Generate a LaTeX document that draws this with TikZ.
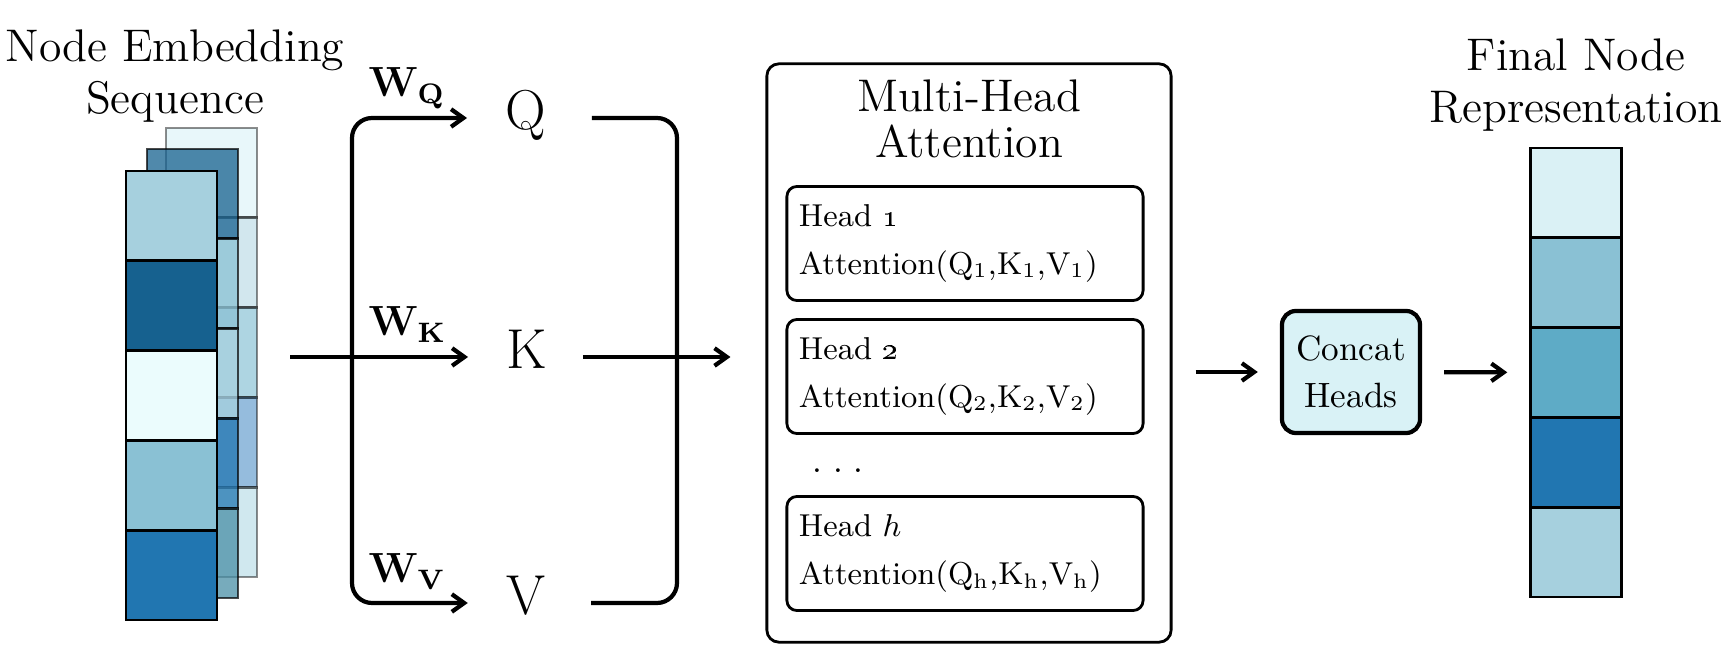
\documentclass[tikz,border=0pt]{standalone}
\usetikzlibrary{positioning,arrows.meta}
\definecolor{seqA}{HTML}{A6D0DE}
\definecolor{seqB}{HTML}{16618F}
\definecolor{seqC}{HTML}{EBFCFD}
\definecolor{seqD}{HTML}{8AC1D4}
\definecolor{seqE}{HTML}{2176B1}
\definecolor{midE}{HTML}{4A8FA6}
\definecolor{backA}{HTML}{D1EFF5}
\definecolor{backD}{HTML}{2B79BB}
\definecolor{backE}{HTML}{A1D1DF}
\definecolor{outA}{HTML}{DAF1F5}
\definecolor{outC}{HTML}{5EABC6}
\definecolor{concatC}{HTML}{D9F2F6}
\tikzset{
  flow/.style={very thick,-{Straight Barb[length=3.5pt,width=5pt]}},
  wire/.style={very thick},
  cell/.style={draw,thick,minimum width=0.905cm,minimum height=0.898cm,inner sep=0},
  headbox/.style={draw,thick,rounded corners=0.1cm,minimum width=3.56cm,minimum height=1.14cm,
    text width=3.32cm,align=left,font=\small,inner sep=0},
  title/.style={font={\fontsize{13}{14.8}\selectfont},align=center,inner sep=0},
  qkv/.style={font={\fontsize{16}{19}\selectfont},inner sep=0,text height=0.68em,text depth=0pt},
  wlabel/.style={anchor=base west,inner sep=0,font=\large},
}

\begin{document}
\begin{tikzpicture}[x=0.01cm,y=-0.01cm]
  \useasboundingbox (0,0) rectangle (1726,670);

  % input sequence, three stacked layers
  \node[title] (seqtitle) at (175,76) {Node Embedding\\Sequence};
  \foreach \c [count=\i] in {backA,seqA,outC,backD,backE}
    \filldraw[thick,fill=\c,fill opacity=0.5,draw opacity=0.45] (166,{128+(\i-1)*89.8}) rectangle ++(91,89.8);
  \foreach \c [count=\i] in {seqB,seqD,seqA,seqE,midE}
    \filldraw[thick,fill=\c,fill opacity=0.75,draw opacity=0.7] (147,{149+(\i-1)*89.8}) rectangle ++(91,89.8);
  \foreach \c [count=\i] in {seqA,seqB,seqC,seqD,seqE}
    \filldraw[thick,fill=\c] (126,{171+(\i-1)*89.8}) rectangle ++(91,89.8);

  % projections
  \coordinate (in) at (290,357);
  \coordinate (split) at (352,357);
  \node[qkv] (Q) at (526,118) {Q};
  \node[qkv] (K) at (527,357) {K};
  \node[qkv] (V) at (526,603) {V};
  \draw[flow,shorten >=0.38cm] (in) -- (K);
  \draw[flow,rounded corners=0.2cm,shorten >=0.38cm] (split) |- (Q);
  \draw[flow,rounded corners=0.2cm,shorten >=0.38cm] (split) |- (V);
  \node[wlabel] (wq) at (368,97) {$\mathbf{W}_{\mathbf{Q}}$};
  \node[wlabel] (wk) at (368,336) {$\mathbf{W}_{\mathbf{K}}$};
  \node[wlabel] (wv) at (368,583) {$\mathbf{W}_{\mathbf{V}}$};

  % gather Q, K, V
  \coordinate (merge) at (677,357);
  \draw[wire,rounded corners=0.2cm,shorten <=0.45cm,shorten >=0.45cm] (Q) -| (merge) |- (V);

  % multi-head attention block
  \node[draw,thick,rounded corners=0.12cm,minimum width=4.04cm,minimum height=5.78cm] (mha) at (969,353) {};
  \node[title] (mhatitle) at (969,119) {Multi-Head\\[-1.8pt]Attention};
  \node[headbox] (h1) at (965,243.5) {Head \oldstylenums{1}\\[2.6pt]Attention(Q$_1$,K$_1$,V$_1$)};
  \node[headbox] (h2) at (965,376.5) {Head \oldstylenums{2}\\[2.6pt]Attention(Q$_2$,K$_2$,V$_2$)};
  \node[anchor=base west,inner sep=0] (dots) at (812,473) {.\kern3pt.\kern3pt.};
  \node[headbox] (hh) at (965,553.5) {Head $h$\\[2.6pt]Attention(Q$_\mathrm{h}$,K$_\mathrm{h}$,V$_\mathrm{h}$)};
  \draw[flow,shorten <=0.35cm,shorten >=0.35cm] (K) -- (K -| mha.west);

  % concat and output
  \node[draw,very thick,rounded corners=0.14cm,fill=concatC,minimum width=1.38cm,minimum height=1.22cm,
    align=center,inner sep=0] (concat) at (1351,372) {Concat\\[1.5pt]Heads};
  \node[title] (outtitle) at (1576,85) {Final Node\\Representation};
  \foreach \c [count=\i] in {outA,seqD,outC,seqE,seqA}
    \node[cell,fill=\c] (out\i) at (1576,{192.9+(\i-1)*89.8}) {};
  \draw[flow,shorten <=0.23cm,shorten >=0.22cm] (mha.east |- concat) -- (concat);
  \draw[flow,shorten <=0.22cm,shorten >=0.22cm] (concat) -- (out3);
\end{tikzpicture}
\end{document}
